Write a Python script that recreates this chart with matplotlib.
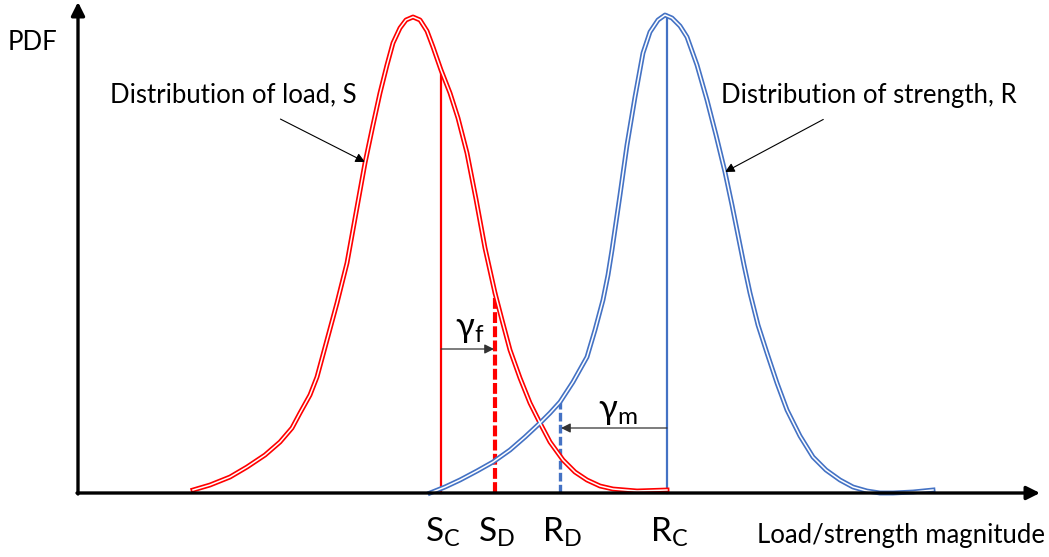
import matplotlib.pyplot as plt

plt.rcParams.update({
    "font.family": ["Lato", "DejaVu Sans"],
    "mathtext.fontset": "custom",
    "mathtext.rm": "Lato",
    "mathtext.it": "Lato",
    "mathtext.default": "rm",
})

# load distribution S (magnitude, density)
load_x = [115, 132, 152, 169, 187, 202, 214, 222, 232, 239, 249, 259, 269, 278,
          287, 295, 302, 309, 315, 322, 328, 335, 342, 349, 355, 363, 372, 380,
          389, 398, 407, 417, 424, 432, 442, 452, 462, 472, 485, 497, 509, 522,
          535, 559, 589]
load_y = [3, 8, 16, 26, 38, 51, 65, 80, 98, 116, 153, 190, 230, 280,
          330, 368, 400, 428, 450, 465, 473, 476, 473, 462, 446, 423, 400, 375,
          340, 294, 245, 200, 173, 143, 115, 90, 70, 51, 33, 21, 13, 7,
          4, 2, 3]

# strength distribution R
strength_x = [352, 367, 382, 399, 415, 432, 447, 462, 472, 482, 495, 509, 517,
              525, 530, 534, 542, 549, 557, 565, 572, 580, 587, 594, 602, 609,
              619, 629, 638, 647, 654, 660, 666, 672, 680, 689, 699, 709, 722,
              735, 748, 762, 775, 789, 802, 815, 835, 855]
strength_y = [0, 6, 13, 22, 31, 43, 56, 70, 80, 91, 111, 136, 163,
              193, 218, 243, 298, 348, 396, 440, 461, 473, 478, 475, 467, 456,
              428, 393, 358, 321, 288, 258, 228, 200, 168, 140, 110, 83, 57,
              36, 23, 13, 6, 2, 0, 0, 1, 3]

# characteristic / design values and the densities where the markers stop
s_c, s_c_top = 363, 421
s_d, s_d_top = 417, 201
r_d, r_d_top = 482, 91
r_c, r_c_top = 589, 478

RED = "#FF0000"
BLUE = "#4472C4"

fig = plt.figure(figsize=(10.49, 5.57), dpi=100)
ax = fig.add_axes([0, 0, 1, 1])
ax.set_xlim(-78, 971)
ax.set_ylim(-64, 493)
ax.axis("off")

# marker lines for S_C, S_D, R_D, R_C
ax.plot([s_c, s_c], [0, s_c_top], color=RED, lw=1.6, zorder=2)
ax.plot([s_d, s_d], [0, s_d_top], color=RED, lw=3.0, dashes=(2.6, 0.8), zorder=2)
ax.plot([r_d, r_d], [0, r_d_top], color=BLUE, lw=2.4, dashes=(2.6, 1.0), zorder=2)
ax.plot([r_c, r_c], [0, r_c_top], color=BLUE, lw=1.6, zorder=2)

# double-stroke curves: coloured line with a thin white core
for xs, ys, c in [(load_x, load_y, RED), (strength_x, strength_y, BLUE)]:
    ax.plot(xs, ys, color=c, lw=3.5, solid_joinstyle="round", zorder=3)
    ax.plot(xs, ys, color="white", lw=1.1, solid_joinstyle="round", zorder=4)

# axes with arrowheads
axis_props = dict(arrowstyle="-|>", lw=2.4, color="black",
                  mutation_scale=20, shrinkA=0, shrinkB=0)
ax.annotate("", xy=(962, 0), xytext=(-1, 0), arrowprops=axis_props, zorder=5)
ax.annotate("", xy=(0, 491), xytext=(0, -1), arrowprops=axis_props, zorder=5)

# partial safety factor arrows
thin = dict(arrowstyle="-|>", lw=0.9, color="#333333",
            mutation_scale=14, shrinkA=0, shrinkB=0)
ax.annotate("", xy=(s_d - 1, 144), xytext=(s_c, 144), arrowprops=thin)
ax.annotate("", xy=(r_d + 1, 65), xytext=(r_c, 65), arrowprops=thin)
ax.text(392, 164, r"$\gamma_\mathrm{f}$", fontsize=25, ha="center", va="center")
ax.text(540, 82, r"$\gamma_\mathrm{m}$", fontsize=25, ha="center", va="center")

# distribution labels
ax.annotate("Distribution of load, S", xy=(287, 331), xytext=(155, 398),
            fontsize=18.5, ha="center", va="center",
            arrowprops=dict(arrowstyle="-|>", lw=0.8, color="black",
                            mutation_scale=14, shrinkA=14, shrinkB=0))
ax.annotate("Distribution of strength, R", xy=(647, 321), xytext=(791, 398),
            fontsize=18.5, ha="center", va="center",
            arrowprops=dict(arrowstyle="-|>", lw=0.8, color="black",
                            mutation_scale=14, shrinkA=14, shrinkB=0))

# axis titles and tick labels
ax.text(-46, 451, "PDF", fontsize=18.5, ha="center", va="center")
ax.text(679, -42, "Load/strength magnitude", fontsize=18.5, ha="left", va="center")
for xv, lab in [(s_c, r"$\mathrm{S_C}$"), (s_d, r"$\mathrm{S_D}$"),
                (r_d, r"$\mathrm{R_D}$"), (r_c, r"$\mathrm{R_C}$")]:
    ax.text(xv + 2, -49, lab, fontsize=24, ha="center", va="baseline")

fig.savefig("out.png", dpi=100)
